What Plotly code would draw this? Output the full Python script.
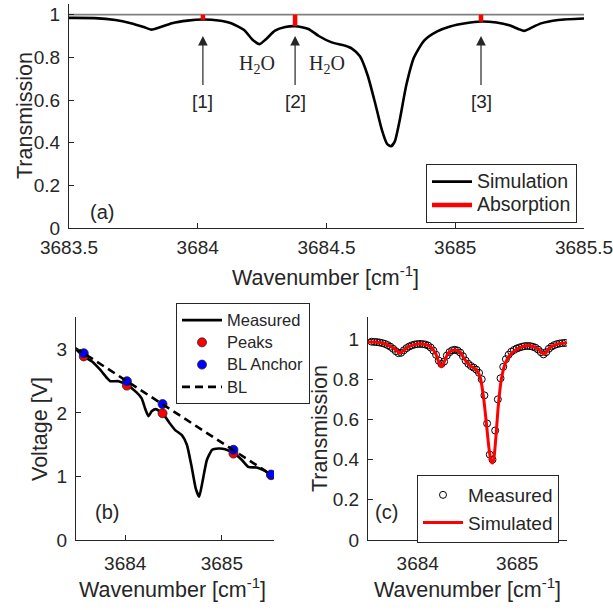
import plotly.graph_objects as go

# ---------------- data ----------------
# Simulated transmission (panel a and c)
sim_wn = [3683.50, 3683.60, 3683.68, 3683.74, 3683.79, 3683.82, 3683.85, 3683.90, 3683.96,
          3684.02, 3684.08, 3684.13, 3684.18, 3684.215, 3684.24, 3684.265, 3684.30, 3684.34,
          3684.38, 3684.43, 3684.47, 3684.52, 3684.57, 3684.60, 3684.63, 3684.66, 3684.69,
          3684.715, 3684.735, 3684.75, 3684.765, 3684.785, 3684.81, 3684.84, 3684.88, 3684.93,
          3684.98, 3685.04, 3685.10, 3685.16, 3685.21, 3685.245, 3685.267, 3685.29, 3685.33,
          3685.40, 3685.50]
sim_T = [0.985, 0.984, 0.975, 0.960, 0.942, 0.930, 0.940, 0.960, 0.972,
         0.977, 0.973, 0.960, 0.928, 0.880, 0.862, 0.885, 0.925, 0.942,
         0.946, 0.933, 0.900, 0.870, 0.855, 0.840, 0.805, 0.715, 0.580,
         0.460, 0.395, 0.383, 0.405, 0.510, 0.670, 0.800, 0.880, 0.922,
         0.945, 0.960, 0.968, 0.963, 0.950, 0.933, 0.924, 0.935, 0.958,
         0.975, 0.982]

# Absorption markers in panel (a)
abs_labels = ["[1]", "[2]", "[3]"]
abs_wn = [3684.02, 3684.378, 3685.10]
abs_T = [0.976, 0.947, 0.967]
h2o_wn = [3684.23, 3684.50]

# Panel (b): measured voltage
volt_wn = [3683.48, 3683.57, 3683.656, 3683.74, 3683.81, 3683.845, 3683.93, 3684.017, 3684.12,
           3684.17, 3684.21, 3684.24, 3684.276, 3684.317, 3684.386, 3684.45, 3684.517, 3684.586,
           3684.638, 3684.69, 3684.73, 3684.765, 3684.80, 3684.845, 3684.90, 3684.965, 3685.034,
           3685.12, 3685.207, 3685.275, 3685.36, 3685.43, 3685.517]
volt_V = [3.02, 2.89, 2.81, 2.68, 2.55, 2.50, 2.50, 2.44, 2.32,
          2.23, 2.05, 1.95, 2.03, 2.06, 1.995, 1.86, 1.73, 1.65,
          1.50, 1.13, 0.81, 0.68, 0.92, 1.26, 1.42, 1.44, 1.43,
          1.37, 1.26, 1.15, 1.14, 1.10, 1.02]
peak_wn = [3683.57, 3684.017, 3684.386, 3685.12, 3685.51]
peak_V = [2.89, 2.43, 1.995, 1.36, 1.02]
anchor_V = [2.94, 2.50, 2.14, 1.42, 1.03]
bl_wn = [3683.48, 3683.57, 3684.017, 3684.386, 3685.12, 3685.51]
bl_V = [3.02, 2.94, 2.50, 2.14, 1.42, 1.03]

# Panel (c): measured transmission
meas_wn = [3683.536, 3683.563, 3683.590, 3683.617, 3683.644, 3683.671, 3683.698, 3683.725,
           3683.752, 3683.779, 3683.806, 3683.833, 3683.860, 3683.887, 3683.914, 3683.941,
           3683.968, 3683.995, 3684.022, 3684.049, 3684.076, 3684.103, 3684.130, 3684.157,
           3684.184, 3684.211, 3684.238, 3684.265, 3684.292, 3684.319, 3684.346, 3684.373,
           3684.400, 3684.427, 3684.454, 3684.481, 3684.508, 3684.535, 3684.562, 3684.589,
           3684.616, 3684.643, 3684.670, 3684.697, 3684.724, 3684.751, 3684.778, 3684.805,
           3684.832, 3684.859, 3684.886, 3684.913, 3684.940, 3684.967, 3684.994, 3685.021,
           3685.048, 3685.075, 3685.102, 3685.129, 3685.156, 3685.183, 3685.210, 3685.237,
           3685.264, 3685.291, 3685.318, 3685.345, 3685.372, 3685.399, 3685.426, 3685.453,
           3685.480]
meas_T = [0.987, 0.986, 0.985, 0.983, 0.980, 0.976, 0.970, 0.962,
          0.952, 0.940, 0.930, 0.932, 0.944, 0.955, 0.963, 0.969,
          0.973, 0.975, 0.976, 0.975, 0.973, 0.968, 0.958, 0.943,
          0.922, 0.893, 0.876, 0.888, 0.918, 0.935, 0.944, 0.947,
          0.943, 0.933, 0.915, 0.893, 0.877, 0.866, 0.858, 0.848,
          0.832, 0.800, 0.720, 0.580, 0.425, 0.400, 0.545, 0.700,
          0.805, 0.862, 0.900, 0.922, 0.937, 0.946, 0.953, 0.958,
          0.962, 0.965, 0.966, 0.965, 0.962, 0.957, 0.948, 0.935,
          0.924, 0.935, 0.952, 0.963, 0.970, 0.975, 0.978, 0.980,
          0.981]

# ---------------- figure ----------------
W, H = 613, 610
TXT = "#262626"
FONT = "Liberation Sans, Arial, Helvetica, sans-serif"
SERIF = "Liberation Serif, Times New Roman, serif"
TICK_SIZE = 19
TITLE_SIZE = 21.5


def px(x):
    return x / W


def py(y):
    return 1 - y / H


def lname(text, size):
    return "<span style='font-size:%spx'>%s</span>" % (size, text)


fig = go.Figure()

# ---- panel (a)
fig.add_trace(go.Scatter(x=[sim_wn[0], sim_wn[-1]], y=[1, 1], mode="lines",
                         line=dict(color="#808080", width=1.6), showlegend=False,
                         xaxis="x", yaxis="y", hoverinfo="skip"))
fig.add_trace(go.Scatter(x=sim_wn, y=sim_T, mode="lines", name=lname("Simulation", 19.5),
                         line=dict(color="black", width=2.6, shape="spline", smoothing=0.6),
                         xaxis="x", yaxis="y", legend="legend"))
bx, by = [], []
for w, t in zip(abs_wn, abs_T):
    bx += [w, w, None]
    by += [t, 1, None]
fig.add_trace(go.Scatter(x=bx, y=by, mode="lines", name=lname("Absorption", 19.5),
                         line=dict(color="red", width=4.5), xaxis="x", yaxis="y",
                         legend="legend"))

# ---- panel (b)
fig.add_trace(go.Scatter(x=volt_wn, y=volt_V, mode="lines", name=lname("Measured", 16.5),
                         line=dict(color="black", width=2.6, shape="spline", smoothing=0.5),
                         xaxis="x2", yaxis="y2", legend="legend2"))
fig.add_trace(go.Scatter(x=peak_wn, y=peak_V, mode="markers", name=lname("Peaks", 16.5),
                         marker=dict(color="red", size=9, line=dict(color="#222", width=0.8)),
                         xaxis="x2", yaxis="y2", legend="legend2"))
fig.add_trace(go.Scatter(x=peak_wn, y=anchor_V, mode="markers", name=lname("BL Anchor", 16.5),
                         marker=dict(color="blue", size=9, line=dict(color="#222", width=0.8)),
                         xaxis="x2", yaxis="y2", legend="legend2"))
fig.add_trace(go.Scatter(x=bl_wn, y=bl_V, mode="lines", name=lname("BL", 16.5),
                         line=dict(color="black", width=2.6, dash="8px,5px"),
                         xaxis="x2", yaxis="y2", legend="legend2"))

# ---- panel (c)
fig.add_trace(go.Scatter(x=meas_wn, y=meas_T, mode="markers", name="Measured",
                         marker=dict(symbol="circle-open", color="black", size=7,
                                     line=dict(width=1)),
                         xaxis="x3", yaxis="y3", legend="legend3"))
fig.add_trace(go.Scatter(x=sim_wn, y=sim_T, mode="lines", name="Simulated",
                         line=dict(color="red", width=3, shape="spline", smoothing=0.6),
                         xaxis="x3", yaxis="y3", legend="legend3"))

tickfont = dict(family=FONT, size=TICK_SIZE, color=TXT)


def ax(domain, rng, tickvals, ticktext, anchor, standoff):
    return dict(domain=domain, range=rng, tickvals=tickvals, ticktext=ticktext,
                anchor=anchor, showline=True, linecolor=TXT, linewidth=1,
                ticks="inside", ticklen=5, tickcolor=TXT, tickwidth=1,
                showgrid=False, zeroline=False, tickfont=tickfont, mirror=False,
                automargin=False, ticklabelstandoff=standoff, ticklabeloverflow="allow")


xa_dom = [px(69), px(584)]
ya_dom = [py(228), py(4)]
xb_dom = [px(76), px(274)]
yb_dom = [py(540), py(317)]
xc_dom = [px(368), px(567)]


def legend_cfg(x, y, size):
    return dict(x=px(x), y=py(y), xanchor="left", yanchor="top",
                bordercolor=TXT, borderwidth=1, bgcolor="white",
                font=dict(family=FONT, size=size, color=TXT),
                tracegroupgap=0, itemwidth=40)


fig.update_layout(
    width=W, height=H, margin=dict(l=0, r=0, t=0, b=0),
    paper_bgcolor="white", plot_bgcolor="white",
    font=dict(family=FONT, color=TXT),
    xaxis=ax(xa_dom, [3683.5, 3685.5], [3683.5, 3684, 3684.5, 3685, 3685.5],
             ["3683.5", "3684", "3684.5", "3685", "3685.5"], "y", 2),
    yaxis=ax(ya_dom, [0, 1.05], [0, 0.2, 0.4, 0.6, 0.8, 1],
             ["0", "0.2", "0.4", "0.6", "0.8", "1"], "x", 4),
    xaxis2=ax(xb_dom, [3683.49, 3685.54], [3684, 3685], ["3684", "3685"], "y2", 6),
    yaxis2=ax(yb_dom, [0, 3.51], [0, 1, 2, 3], ["0", "1", "2", "3"], "x2", 4),
    xaxis3=ax(xc_dom, [3683.5, 3685.5], [3684, 3685], ["3684", "3685"], "y3", 6),
    yaxis3=ax(yb_dom, [0, 1.11], [0, 0.2, 0.4, 0.6, 0.8, 1],
              ["0", "0.2", "0.4", "0.6", "0.8", "1"], "x3", 4),
    legend=legend_cfg(426, 164, 15.6),
    legend2=legend_cfg(176, 303, 14.8),
    legend3=legend_cfg(417, 475, 19),
)

annots = []
# arrows and labels
for lab, w in zip(abs_labels, abs_wn):
    annots.append(dict(x=w, y=0.90, ax=w, ay=0.663, xref="x", yref="y", axref="x", ayref="y",
                       text="", showarrow=True, arrowhead=2, arrowsize=1.6, arrowwidth=1.2,
                       arrowcolor=TXT, standoff=0))
    annots.append(dict(x=w, y=0.595, xref="x", yref="y", text=lab, showarrow=False,
                       font=dict(family=FONT, size=19, color=TXT)))
for w in h2o_wn:
    annots.append(dict(x=w, y=0.765, xref="x", yref="y", text="H<sub>2</sub>O", showarrow=False,
                       font=dict(family=SERIF, size=20, color=TXT)))
# panel labels
for lab, xx, yy in [("(a)", 88, 212), ("(b)", 93, 525), ("(c)", 386, 525)]:
    annots.append(dict(x=px(xx), y=py(yy), xref="paper", yref="paper", text=lab,
                       showarrow=False, font=dict(family=FONT, size=20, color=TXT)))
# axis titles
wn_title = "Wavenumber [cm<sup>-1</sup>]"
titles = [
    (wn_title, 326, 276, 0),
    ("Transmission", 25, 116, -90),
    (wn_title, 172, 588, 0),
    ("Voltage [V]", 40, 429, -90),
    (wn_title, 467, 588, 0),
    ("Transmission", 320, 429, -90),
]
for txt, xx, yy, ang in titles:
    annots.append(dict(x=px(xx), y=py(yy), xref="paper", yref="paper", text=txt,
                       showarrow=False, textangle=ang, xanchor="center", yanchor="middle",
                       font=dict(family=FONT, size=TITLE_SIZE, color=TXT)))
fig.update_layout(annotations=annots)

fig.write_html("out.html")
